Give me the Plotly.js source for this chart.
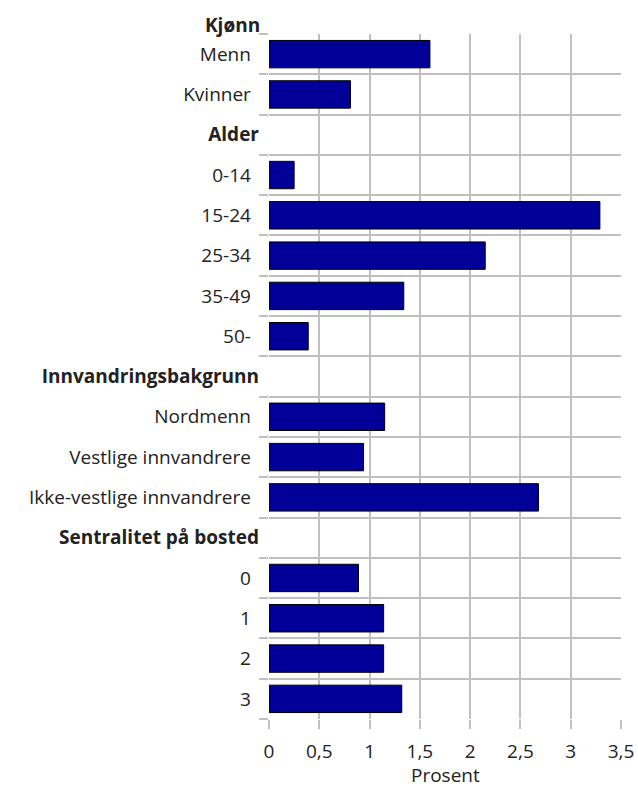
<!DOCTYPE html>
<html>
<head>
<meta charset="utf-8">
<script src="https://cdn.plot.ly/plotly-3.0.1.min.js"></script>
<style>html,body{margin:0;padding:0;background:#fff;}#chart{width:638px;height:789px;}</style>
</head>
<body>
<div id="chart"></div>
<script>
const categories = ["Kjønn","Menn","Kvinner","Alder","0-14","15-24","25-34","35-49","50-","Innvandringsbakgrunn","Nordmenn","Vestlige innvandrere","Ikke-vestlige innvandrere","Sentralitet på bosted","0","1","2","3"];
const headers = ["Kjønn","Alder","Innvandringsbakgrunn","Sentralitet på bosted"];
const values = [null,1.60,0.81,null,0.25,3.29,2.15,1.34,0.39,null,1.15,0.94,2.68,null,0.89,1.14,1.14,1.32];
const xTickVals = [0,0.5,1,1.5,2,2.5,3,3.5];
const xTickText = ["0","0,5","1","1,5","2","2,5","3","3,5"];
const xTitle = "Prosent";

const tickText = categories.map(c => headers.includes(c) ? "<b>" + c + "</b>" : c + "\u00A0\u2006");

const trace = {
  type: "bar",
  orientation: "h",
  x: values,
  y: categories,
  width: 0.68,
  marker: {color: "#000099", line: {color: "#000000", width: 1}},
  hoverinfo: "none"
};

const font = {family: "Open Sans, sans-serif", size: 19, color: "#222222"};

const layout = {
  width: 638, height: 789,
  margin: {l: 268.5, r: 16.5, t: 33.5, b: 70, pad: 0},
  paper_bgcolor: "#ffffff", plot_bgcolor: "#ffffff",
  font: font,
  showlegend: false,
  xaxis: {
    range: [0, 3.5], tickmode: "array", tickvals: xTickVals, ticktext: xTickText,
    showgrid: true, gridcolor: "#c0c0c0", gridwidth: 2,
    zeroline: false, showline: false,
    ticks: "outside", ticklen: 9, tickwidth: 2, tickcolor: "#c0c0c0",
    ticklabelstandoff: 6,
    tickfont: font,
    fixedrange: true
  },
  yaxis: {
    type: "category", categoryorder: "array", categoryarray: categories,
    range: [17.5, 0.5],
    tickmode: "array", tickvals: categories, ticktext: tickText,
    tickson: "boundaries",
    showgrid: true, gridcolor: "#c0c0c0", gridwidth: 2,
    zeroline: false, showline: false,
    ticks: "outside", ticklen: 9, tickwidth: 2, tickcolor: "#c0c0c0",
    ticklabelstandoff: 9,
    tickfont: font,
    fixedrange: true
  },
  annotations: [{
    xref: "paper", yref: "paper", x: 0, y: 1,
    xanchor: "right", yanchor: "middle", xshift: -7, yshift: 9,
    text: "<b>" + categories[0] + "</b>", showarrow: false, font: font
  }, {
    xref: "paper", yref: "paper", x: 0.5, y: 0,
    xanchor: "center", yanchor: "bottom", yshift: -70, borderpad: 0,
    text: xTitle, showarrow: false, font: font
  }]
};

Plotly.newPlot("chart", [trace], layout, {staticPlot: true, displayModeBar: false});
</script>
</body>
</html>
